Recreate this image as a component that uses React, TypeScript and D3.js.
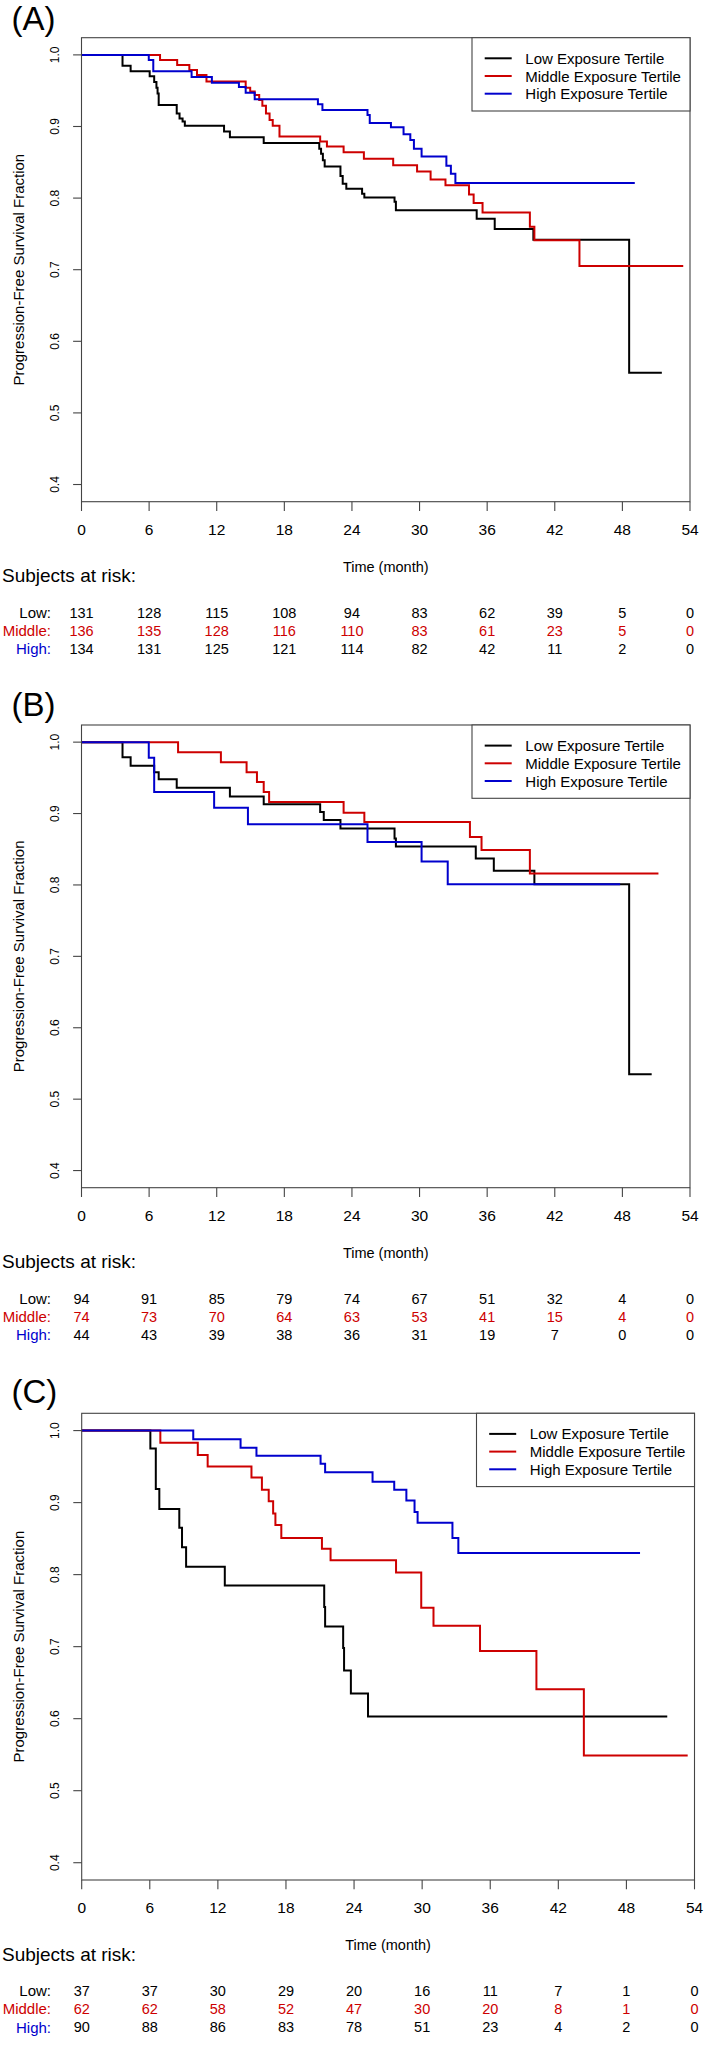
import React from "react";
import * as d3 from "d3";

// ---------- data ----------
const timeTicks = [0, 6, 12, 18, 24, 30, 36, 42, 48, 54];
const survTicks = [0.4, 0.5, 0.6, 0.7, 0.8, 0.9, 1.0];
const groupNames = ["Low Exposure Tertile", "Middle Exposure Tertile", "High Exposure Tertile"];
const riskLabels = ["Low:", "Middle:", "High:"];
const panelLabels = ["(A)", "(B)", "(C)"];

// [time (month), survival after that time]
const aLow = [[0,1],[3.64,0.985],[4.36,0.977],[6.05,0.970],[6.45,0.962],[6.65,0.954],[6.75,0.946],[6.85,0.930],[8.45,0.918],[8.7,0.911],[8.97,0.907],[9.17,0.901],[12.65,0.893],[13.17,0.885],[16.17,0.877],[21.1,0.869],[21.26,0.862],[21.42,0.853],[21.58,0.844],[22.98,0.831],[23.18,0.820],[23.5,0.813],[24.9,0.806],[25.1,0.801],[27.78,0.795],[27.9,0.783],[35.07,0.771],[36.67,0.757],[40.1,0.742],[48.6,0.556],[51.5,0.556]];
const aMid = [[0,1],[6.97,0.993],[8.49,0.986],[9.57,0.979],[10.25,0.972],[11.09,0.963],[14.57,0.954],[14.97,0.949],[15.37,0.944],[15.77,0.937],[16.05,0.929],[16.37,0.918],[16.69,0.909],[16.97,0.901],[17.57,0.886],[21.18,0.879],[21.78,0.872],[23.26,0.864],[25.06,0.855],[27.66,0.846],[29.78,0.837],[30.98,0.826],[32.3,0.818],[34.39,0.805],[34.8,0.793],[35.59,0.780],[39.79,0.760],[40.19,0.741],[44.19,0.705],[53.4,0.705]];
const aHigh = [[0,1],[5.97,0.993],[6.37,0.977],[9.77,0.969],[11.57,0.961],[13.97,0.955],[14.57,0.947],[15.37,0.938],[20.98,0.931],[21.38,0.923],[25.38,0.916],[25.58,0.905],[27.46,0.899],[28.58,0.889],[29.18,0.881],[29.5,0.869],[30.18,0.858],[32.38,0.845],[32.78,0.834],[33.18,0.821],[49.1,0.821]];

const bLow = [[0,1],[3.64,0.979],[4.36,0.967],[6.45,0.958],[6.85,0.948],[8.45,0.936],[13.17,0.924],[16.17,0.913],[21.18,0.902],[21.5,0.891],[22.98,0.879],[27.78,0.865],[27.9,0.854],[34.99,0.837],[36.59,0.820],[40.19,0.801],[48.6,0.535],[50.6,0.535]];
const bMid = [[0,1],[8.57,0.986],[12.37,0.972],[14.65,0.958],[15.57,0.944],[16.17,0.930],[16.65,0.916],[23.26,0.901],[25.1,0.888],[34.47,0.867],[35.5,0.849],[39.79,0.816],[51.2,0.816]];
const bHigh = [[0,1],[5.97,0.978],[6.45,0.930],[11.77,0.908],[14.77,0.885],[25.38,0.860],[30.18,0.833],[32.5,0.801],[47.8,0.801]];

const cLow = [[0,1],[6.05,0.975],[6.53,0.919],[6.84,0.891],[8.6,0.865],[8.84,0.838],[9.2,0.811],[12.61,0.785],[21.37,0.755],[21.45,0.728],[23.04,0.698],[23.12,0.667],[23.72,0.635],[25.23,0.603],[51.6,0.603]];
const cMid = [[0,1],[6.93,0.983],[10.23,0.966],[11.1,0.950],[14.96,0.935],[15.88,0.918],[16.48,0.902],[16.87,0.885],[17.07,0.869],[17.59,0.851],[21.17,0.836],[21.93,0.820],[27.7,0.803],[29.92,0.754],[31.0,0.729],[35.1,0.694],[40.07,0.641],[44.25,0.549],[53.4,0.549]];
const cHigh = [[0,1],[9.83,0.988],[14.0,0.976],[15.4,0.965],[21.05,0.954],[21.45,0.942],[25.63,0.929],[27.54,0.918],[28.61,0.903],[29.33,0.887],[29.6,0.872],[32.67,0.851],[33.19,0.830],[49.2,0.830]];

const aRiskLow = [131, 128, 115, 108, 94, 83, 62, 39, 5, 0];
const aRiskMid = [136, 135, 128, 116, 110, 83, 61, 23, 5, 0];
const aRiskHigh = [134, 131, 125, 121, 114, 82, 42, 11, 2, 0];
const bRiskLow = [94, 91, 85, 79, 74, 67, 51, 32, 4, 0];
const bRiskMid = [74, 73, 70, 64, 63, 53, 41, 15, 4, 0];
const bRiskHigh = [44, 43, 39, 38, 36, 31, 19, 7, 0, 0];
const cRiskLow = [37, 37, 30, 29, 20, 16, 11, 7, 1, 0];
const cRiskMid = [62, 62, 58, 52, 47, 30, 20, 8, 1, 0];
const cRiskHigh = [90, 88, 86, 83, 78, 51, 23, 4, 2, 0];

// ---------- styling ----------
const COLORS = ["#000000", "#CD0000", "#0000CD"];
const RISK_NUM_COLORS = ["#000000", "#CD0000", "#000000"];
const FONT = "'Liberation Sans', Arial, sans-serif";
const AXIS = "#444";

const panels = [
  { label: panelLabels[0], left: 81.5, right: 690, top: 37.7, bottom: 501.7, labelY: 30, curves: [aLow, aMid, aHigh], risk: [aRiskLow, aRiskMid, aRiskHigh] },
  { label: panelLabels[1], left: 81.5, right: 690, top: 725, bottom: 1187.7, labelY: 716, curves: [bLow, bMid, bHigh], risk: [bRiskLow, bRiskMid, bRiskHigh] },
  { label: panelLabels[2], left: 81.7, right: 694.5, top: 1413.3, bottom: 1880, labelY: 1403, curves: [cLow, cMid, cHigh], risk: [cRiskLow, cRiskMid, cRiskHigh] },
];

function Panel({ p }: { p: any }) {
  const x = d3.scaleLinear().domain([0, 54]).range([p.left, p.right]);
  const y = d3.scaleLinear().domain([0.376, 1.024]).range([p.bottom, p.top]);
  const line = d3
    .line<number[]>()
    .x((d) => x(d[0]))
    .y((d) => y(d[1]))
    .curve(d3.curveStepAfter);
  const midY = (p.top + p.bottom) / 2;
  const legLeft = p.right - 218;
  const rowOffsets = [110.8, 128.8, 147];
  return (
    <g>
      <text x={11.5} y={p.labelY} fontFamily={FONT} fontSize={33} fill="#000">
        {p.label}
      </text>
      {/* curves */}
      {p.curves.map((c: number[][], i: number) => (
        <path key={i} d={line(c) || ""} fill="none" stroke={COLORS[i]} strokeWidth={2} />
      ))}
      {/* box */}
      <rect x={p.left} y={p.top} width={p.right - p.left} height={p.bottom - p.top} fill="none" stroke={AXIS} strokeWidth={1.1} />
      {/* x axis ticks */}
      {timeTicks.map((t) => (
        <g key={t}>
          <line x1={x(t)} x2={x(t)} y1={p.bottom} y2={p.bottom + 9.3} stroke={AXIS} strokeWidth={1.1} />
          <text x={x(t)} y={p.bottom + 27.5} textAnchor="middle" dominantBaseline="central" fontFamily={FONT} fontSize={15.5} fill="#000">
            {t}
          </text>
        </g>
      ))}
      {/* y axis ticks */}
      {survTicks.map((v) => (
        <g key={v}>
          <line x1={p.left - 8.4} x2={p.left} y1={y(v)} y2={y(v)} stroke={AXIS} strokeWidth={1.1} />
          <text
            transform={`translate(${54.2},${y(v)}) rotate(-90)`}
            textAnchor="middle"
            dy="0.36em"
            fontFamily={FONT}
            fontSize={12}
            fill="#000"
          >
            {v.toFixed(1)}
          </text>
        </g>
      ))}
      <text
        transform={`translate(${19},${midY}) rotate(-90)`}
        textAnchor="middle"
        dy="0.36em"
        fontFamily={FONT}
        fontSize={15}
        fill="#000"
      >
        Progression-Free Survival Fraction
      </text>
      <text x={(p.left + p.right) / 2} y={p.bottom + 65} textAnchor="middle" dominantBaseline="central" fontFamily={FONT} fontSize={14.5} fill="#000">
        Time (month)
      </text>
      <text x={2} y={p.bottom + 74} dominantBaseline="central" fontFamily={FONT} fontSize={19} fill="#000">
        Subjects at risk:
      </text>
      {/* legend */}
      <rect x={legLeft} y={p.top} width={p.right - legLeft} height={73.3} fill="#fff" stroke={AXIS} strokeWidth={1.1} />
      {groupNames.map((g, i) => {
        const ly = p.top + 20.6 + i * 17.7;
        return (
          <g key={g}>
            <line x1={legLeft + 12.7} x2={legLeft + 39.7} y1={ly} y2={ly} stroke={COLORS[i]} strokeWidth={2} />
            <text x={legLeft + 53.3} y={ly} dominantBaseline="central" fontFamily={FONT} fontSize={15} fill="#000">
              {g}
            </text>
          </g>
        );
      })}
      {/* risk table */}
      {p.risk.map((row: number[], i: number) => (
        <g key={i}>
          <text x={51} y={p.bottom + rowOffsets[i]} textAnchor="end" dominantBaseline="central" fontFamily={FONT} fontSize={15} fill={COLORS[i]}>
            {riskLabels[i]}
          </text>
          {row.map((n, j) => (
            <text key={j} x={x(timeTicks[j])} y={p.bottom + rowOffsets[i]} textAnchor="middle" dominantBaseline="central" fontFamily={FONT} fontSize={14.5} fill={RISK_NUM_COLORS[i]}>
              {n}
            </text>
          ))}
        </g>
      ))}
    </g>
  );
}

export default function App() {
  return (
    <svg
      width={709}
      height={2046}
      viewBox="0 0 709 2046"
      style={{ position: "absolute", left: 0, top: 0, background: "#fff" }}
    >
      <rect x={0} y={0} width={709} height={2046} fill="#fff" />
      {panels.map((p) => (
        <Panel key={p.label} p={p} />
      ))}
    </svg>
  );
}
